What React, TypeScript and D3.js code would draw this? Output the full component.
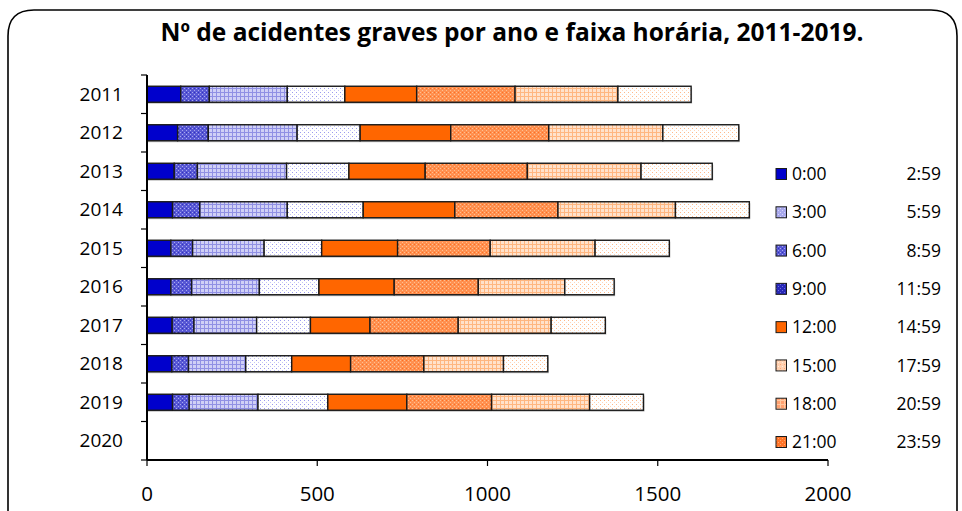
import React from "react";
import * as d3 from "d3";

const years = ["2011", "2012", "2013", "2014", "2015", "2016", "2017", "2018", "2019", "2020"];
const seriesStart = ["0:00", "3:00", "6:00", "9:00", "12:00", "15:00", "18:00", "21:00"];
const seriesEnd = ["2:59", "5:59", "8:59", "11:59", "14:59", "17:59", "20:59", "23:59"];
const xTicks = [0, 500, 1000, 1500, 2000];

// values per time band, one array per year
const v2011 = [99, 84, 229, 169, 211, 289, 302, 215];
const v2012 = [90, 90, 261, 185, 266, 288, 335, 223];
const v2013 = [80, 68, 262, 183, 224, 300, 334, 209];
const v2014 = [75, 80, 257, 223, 269, 303, 345, 217];
const v2015 = [70, 64, 210, 169, 223, 272, 308, 218];
const v2016 = [70, 61, 199, 175, 221, 247, 254, 145];
const v2017 = [74, 64, 184, 158, 175, 259, 273, 159];
const v2018 = [73, 49, 168, 135, 173, 215, 234, 130];
const v2019 = [75, 49, 202, 205, 232, 249, 288, 158];
const v2020 = [0, 0, 0, 0, 0, 0, 0, 0];

const allValues = [v2011, v2012, v2013, v2014, v2015, v2016, v2017, v2018, v2019, v2020];

const FONT = "'Open Sans', Lato, sans-serif";

export default function App() {
  const W = 962, H = 511;
  const x = d3.scaleLinear().domain([0, 2000]).range([147, 828]);
  const y = d3.scaleBand().domain(years).range([75, 460]).paddingInner(0).paddingOuter(0);
  const barH = 16;

  const table = years.map((yr, i) => {
    const row: any = { year: yr };
    seriesStart.forEach((s, j) => (row[s] = allValues[i][j]));
    return row;
  });
  const stack = d3.stack().keys(seriesStart)(table as any);

  const fills = seriesStart.map((_, i) => `url(#p${i})`);
  const legendFills = ["url(#p0)", "url(#lb1)", "url(#p1)", "url(#lb3)", "url(#p4)", "url(#lo5)", "url(#lo6)", "url(#lo7)"];

  const legendY = d3.scalePoint().domain(seriesStart).range([174, 442]);

  const bw = y.bandwidth();
  const yTickPos = d3.range(years.length + 1).map((i) => 75 + i * bw);

  return (
    <svg width={W} height={H} style={{ position: "absolute", left: 0, top: 0 }} xmlns="http://www.w3.org/2000/svg">
      <defs>
        <pattern id="p0" width="4" height="4" patternUnits="userSpaceOnUse">
          <rect width="4" height="4" fill="#0000CC" />
        </pattern>
        <pattern id="p1" width="4" height="4" patternUnits="userSpaceOnUse">
          <rect width="4" height="4" fill="#5858D4" />
          <rect x="0" y="0" width="1" height="1" fill="#A8A8F0" />
          <rect x="2" y="2" width="1" height="1" fill="#A8A8F0" />
          <rect x="2" y="0" width="1" height="1" fill="#3030C0" />
        </pattern>
        <pattern id="p2" width="4" height="4" patternUnits="userSpaceOnUse">
          <rect width="4" height="4" fill="#D0D0F6" />
          <rect x="0" y="0" width="4" height="1" fill="#9090E4" />
          <rect x="0" y="0" width="1" height="4" fill="#9090E4" />
        </pattern>
        <pattern id="p3" width="4" height="4" patternUnits="userSpaceOnUse">
          <rect width="4" height="4" fill="#FFFFFF" />
          <rect x="0" y="0" width="1" height="1" fill="#9A9AEE" />
          <rect x="2" y="2" width="1" height="1" fill="#C4C4F6" />
        </pattern>
        <pattern id="p4" width="4" height="4" patternUnits="userSpaceOnUse">
          <rect width="4" height="4" fill="#FF6600" />
        </pattern>
        <pattern id="p5" width="4" height="4" patternUnits="userSpaceOnUse">
          <rect width="4" height="4" fill="#FF9050" />
          <rect x="0" y="0" width="1" height="1" fill="#FFC090" />
          <rect x="2" y="2" width="1" height="1" fill="#FFC090" />
          <rect x="2" y="0" width="1" height="1" fill="#FF7020" />
        </pattern>
        <pattern id="p6" width="4" height="4" patternUnits="userSpaceOnUse">
          <rect width="4" height="4" fill="#FFE2CC" />
          <rect x="0" y="0" width="4" height="1" fill="#FFB680" />
          <rect x="0" y="0" width="1" height="4" fill="#FFB680" />
        </pattern>
        <pattern id="p7" width="4" height="4" patternUnits="userSpaceOnUse">
          <rect width="4" height="4" fill="#FFFFFF" />
          <rect x="0" y="0" width="1" height="1" fill="#FFB888" />
          <rect x="2" y="2" width="1" height="1" fill="#FFD6BA" />
        </pattern>
        {/* legend swatches */}
        <pattern id="lb1" width="4" height="4" patternUnits="userSpaceOnUse">
          <rect width="4" height="4" fill="#A8A8EC" />
          <rect x="0" y="0" width="1" height="1" fill="#D8D8F8" />
          <rect x="2" y="2" width="1" height="1" fill="#D8D8F8" />
        </pattern>
        <pattern id="lb3" width="4" height="4" patternUnits="userSpaceOnUse">
          <rect width="4" height="4" fill="#2828B8" />
          <rect x="0" y="0" width="1" height="1" fill="#7070DC" />
          <rect x="2" y="2" width="1" height="1" fill="#7070DC" />
        </pattern>
        <pattern id="lo5" width="4" height="4" patternUnits="userSpaceOnUse">
          <rect width="4" height="4" fill="#FFD0B0" />
          <rect x="0" y="0" width="1" height="1" fill="#FFA878" />
          <rect x="2" y="2" width="1" height="1" fill="#FFEEE0" />
        </pattern>
        <pattern id="lo6" width="4" height="4" patternUnits="userSpaceOnUse">
          <rect width="4" height="4" fill="#FFA070" />
          <rect x="0" y="0" width="4" height="1" fill="#FFC8A0" />
          <rect x="0" y="0" width="1" height="4" fill="#FFC8A0" />
        </pattern>
        <pattern id="lo7" width="4" height="4" patternUnits="userSpaceOnUse">
          <rect width="4" height="4" fill="#FF7428" />
          <rect x="0" y="0" width="1" height="1" fill="#FFA870" />
          <rect x="2" y="2" width="1" height="1" fill="#FFA870" />
        </pattern>
      </defs>

      <rect x={0} y={0} width={W} height={H} fill="#fff" />

      {/* frame */}
      <path
        d={`M8,${H + 5} L8,36 Q8,10 34,10 L931,10 Q957,10 957,36 L957,${H + 5}`}
        fill="none"
        stroke="#000"
        strokeWidth={1.6}
      />

      {/* title */}
      <text x={512} y={41} textAnchor="middle" fontFamily={FONT} fontWeight="bold" fontSize={24.5} fill="#000">
        Nº de acidentes graves por ano e faixa horária, 2011-2019.
      </text>

      {/* bars */}
      {stack.map((layer, si) => (
        <g key={si}>
          {layer.map((d: any, i: number) => {
            const yr = years[i];
            const w = x(d[1]) - x(d[0]);
            if (w <= 0) return null;
            const yy = (y(yr) as number) + (bw - barH) / 2;
            return (
              <g key={yr}>
                <rect x={x(d[0]) + 1} y={yy + 1.5} width={w} height={barH} fill="#9a9a9a" opacity={0.6} />
                <rect x={x(d[0])} y={yy} width={w} height={barH} fill={fills[si]} stroke="#1a1a1a" strokeWidth={1.4} />
              </g>
            );
          })}
        </g>
      ))}

      {/* y axis */}
      <line x1={147} x2={147} y1={75} y2={460} stroke="#000" strokeWidth={2} />
      {yTickPos.map((t, i) => (
        <line key={i} x1={141} x2={147} y1={t} y2={t} stroke="#000" strokeWidth={1.2} />
      ))}
      {years.map((yr) => (
        <text
          key={yr}
          x={123}
          y={(y(yr) as number) + bw / 2}
          dy="0.35em"
          textAnchor="end"
          fontFamily={FONT}
          fontSize={19}
          fill="#000"
        >
          {yr}
        </text>
      ))}

      {/* x axis */}
      <line x1={147} x2={828} y1={460} y2={460} stroke="#000" strokeWidth={2} />
      {xTicks.map((t) => (
        <g key={t}>
          <line x1={x(t)} x2={x(t)} y1={460} y2={466} stroke="#000" strokeWidth={1.2} />
          <text x={x(t)} y={501} textAnchor="middle" fontFamily={FONT} fontSize={20.5} fill="#000">
            {t}
          </text>
        </g>
      ))}

      {/* legend */}
      {seriesStart.map((s, i) => {
        const ly = legendY(s) as number;
        return (
          <g key={s}>
            <rect x={776} y={ly - 5.5} width={10.5} height={11} fill={legendFills[i]} stroke="#1a1a1a" strokeWidth={1} />
            <text x={792} y={ly} dy="0.35em" fontFamily={FONT} fontSize={17.5} fill="#000">
              {s}
            </text>
            <text x={941} y={ly} dy="0.35em" textAnchor="end" fontFamily={FONT} fontSize={17.5} fill="#000">
              {seriesEnd[i]}
            </text>
          </g>
        );
      })}
    </svg>
  );
}
